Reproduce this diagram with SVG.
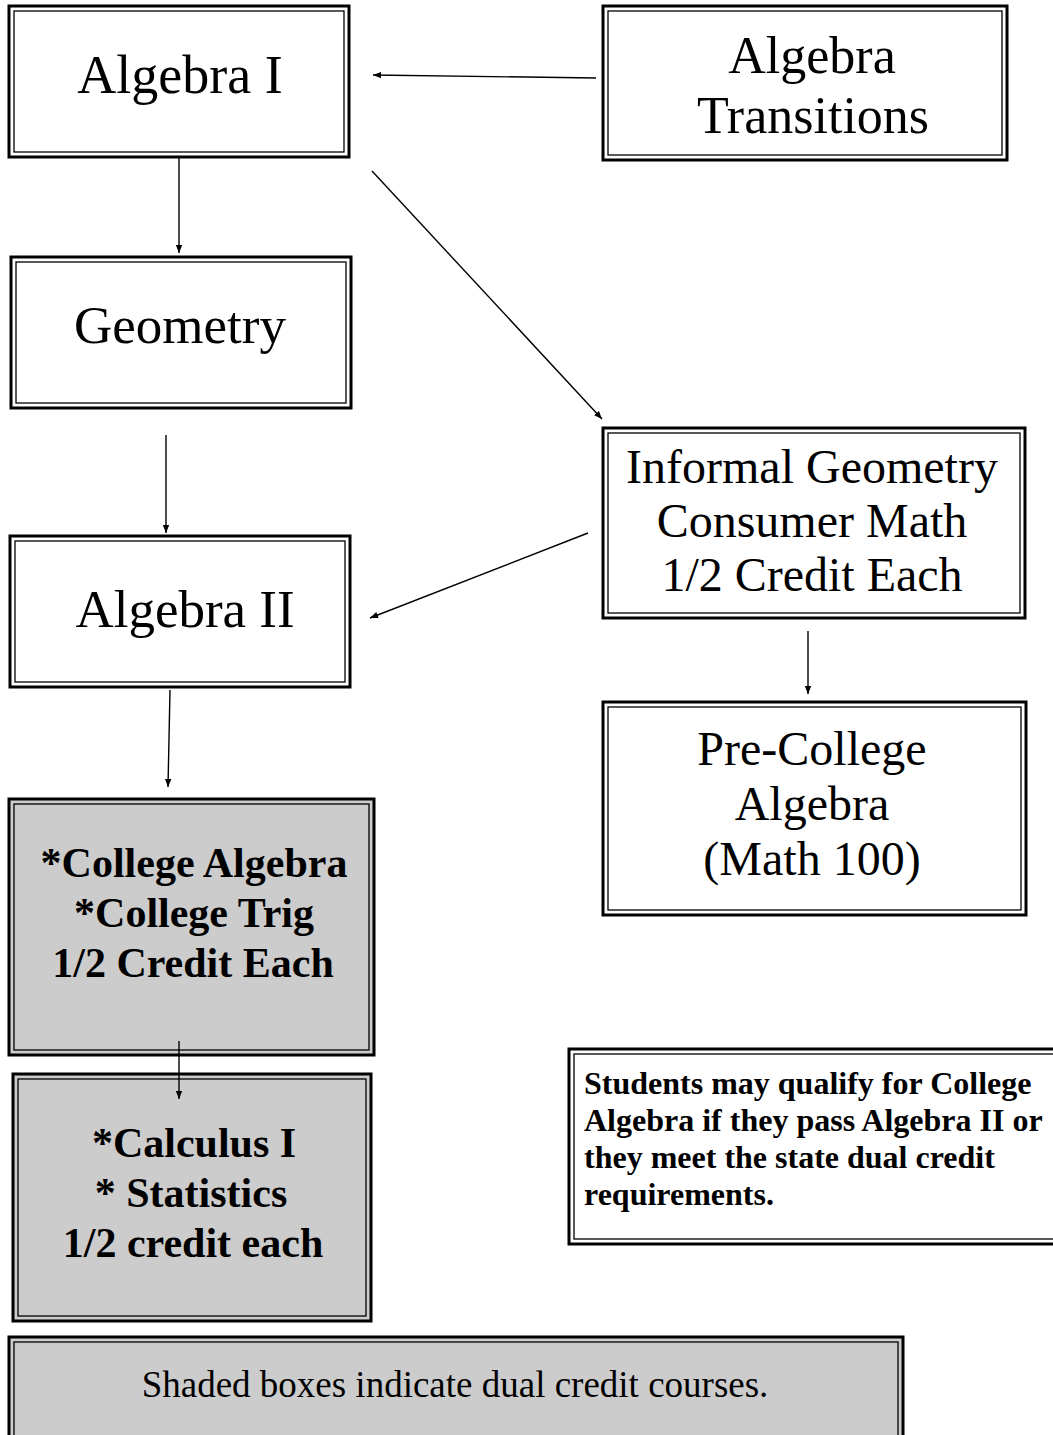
<svg xmlns="http://www.w3.org/2000/svg" width="1053" height="1435" viewBox="0 0 1053 1435">
<style>
.o{fill:#fff;stroke:#000;stroke-width:3}
.i{fill:none;stroke:#000;stroke-width:1.3}
.s{fill:#cccccc}
.t{font-family:"Liberation Serif","Times New Roman",serif;text-anchor:middle;fill:#000}
.b{font-weight:bold}
.n{font-family:"Liberation Serif","Times New Roman",serif;font-weight:bold;font-size:32px;fill:#000}
.c{stroke:#000;stroke-width:1.4;fill:none;marker-end:url(#ah)}
</style>
<defs>
<marker id="ah" viewBox="0 0 10 10" refX="10" refY="5" markerWidth="9" markerHeight="8" markerUnits="userSpaceOnUse" orient="auto">
<path d="M0,1 L10,5 L0,9 z" fill="#000"/>
</marker>
</defs>
<g id="algebra1">
<rect class="o" x="9" y="6" width="340" height="151"/>
<rect class="i" x="14" y="11" width="330" height="141"/>
<text class="t" x="180" y="93" font-size="54">Algebra I</text>
</g>
<g id="transitions">
<rect class="o" x="603" y="6" width="404" height="154"/>
<rect class="i" x="608" y="11" width="394" height="144"/>
<text class="t" x="812" y="73" font-size="52">Algebra</text>
<text class="t" x="813" y="133" font-size="52">Transitions</text>
</g>
<g id="geometry">
<rect class="o" x="11" y="257" width="340" height="151"/>
<rect class="i" x="16" y="262" width="330" height="141"/>
<text class="t" x="180" y="343" font-size="53">Geometry</text>
</g>
<g id="informal">
<rect class="o" x="603" y="428" width="422" height="190"/>
<rect class="i" x="608" y="433" width="412" height="180"/>
<text class="t" x="812" y="483" font-size="48">Informal Geometry</text>
<text class="t" x="812" y="537" font-size="48">Consumer Math</text>
<text class="t" x="812" y="591" font-size="48">1/2 Credit Each</text>
</g>
<g id="algebra2">
<rect class="o" x="10" y="536" width="340" height="151"/>
<rect class="i" x="15" y="541" width="330" height="141"/>
<text class="t" x="185" y="627" font-size="53">Algebra II</text>
</g>
<g id="precollege">
<rect class="o" x="603" y="702" width="423" height="213"/>
<rect class="i" x="608" y="707" width="413" height="203"/>
<text class="t" x="812" y="765" font-size="48">Pre-College</text>
<text class="t" x="812" y="820" font-size="48">Algebra</text>
<text class="t" x="812" y="875" font-size="48">(Math 100)</text>
</g>
<g id="college">
<rect class="o s" x="9" y="799" width="365" height="256"/>
<rect class="i" x="14" y="804" width="355" height="246"/>
<text class="t b" x="194" y="877" font-size="42">*College Algebra</text>
<text class="t b" x="194" y="927" font-size="42">*College Trig</text>
<text class="t b" x="193" y="977" font-size="42">1/2 Credit Each</text>
</g>
<g id="calculus">
<rect class="o s" x="13" y="1074" width="358" height="247"/>
<rect class="i" x="18" y="1079" width="348" height="237"/>
<text class="t b" x="194" y="1157" font-size="42">*Calculus I</text>
<text class="t b" x="191" y="1207" font-size="42">* Statistics</text>
<text class="t b" x="193" y="1257" font-size="42">1/2 credit each</text>
</g>
<g id="note">
<rect class="o" x="569" y="1049" width="490" height="195"/>
<rect class="i" x="574" y="1054" width="480" height="185"/>
<text class="n" x="584" y="1094">Students may qualify for College</text>
<text class="n" x="584" y="1131">Algebra if they pass Algebra II or</text>
<text class="n" x="584" y="1168">they meet the state dual credit</text>
<text class="n" x="584" y="1205">requirements.</text>
</g>
<g id="legend">
<rect class="o s" x="9" y="1337" width="894" height="110"/>
<rect class="i" x="14" y="1342" width="884" height="100"/>
<text class="t" x="455" y="1397" font-size="37">Shaded boxes indicate dual credit courses.</text>
</g>
<g id="connectors">
<line class="c" x1="596" y1="78" x2="373" y2="75"/>
<line class="c" x1="179" y1="158" x2="179" y2="253"/>
<line class="c" x1="372" y1="171" x2="602" y2="419"/>
<line class="c" x1="166" y1="435" x2="166" y2="533"/>
<line class="c" x1="588" y1="533" x2="370" y2="618"/>
<line class="c" x1="808" y1="631" x2="808" y2="694"/>
<line class="c" x1="170" y1="690" x2="168" y2="787"/>
<line class="c" x1="179" y1="1041" x2="179" y2="1099"/>
</g>
</svg>
